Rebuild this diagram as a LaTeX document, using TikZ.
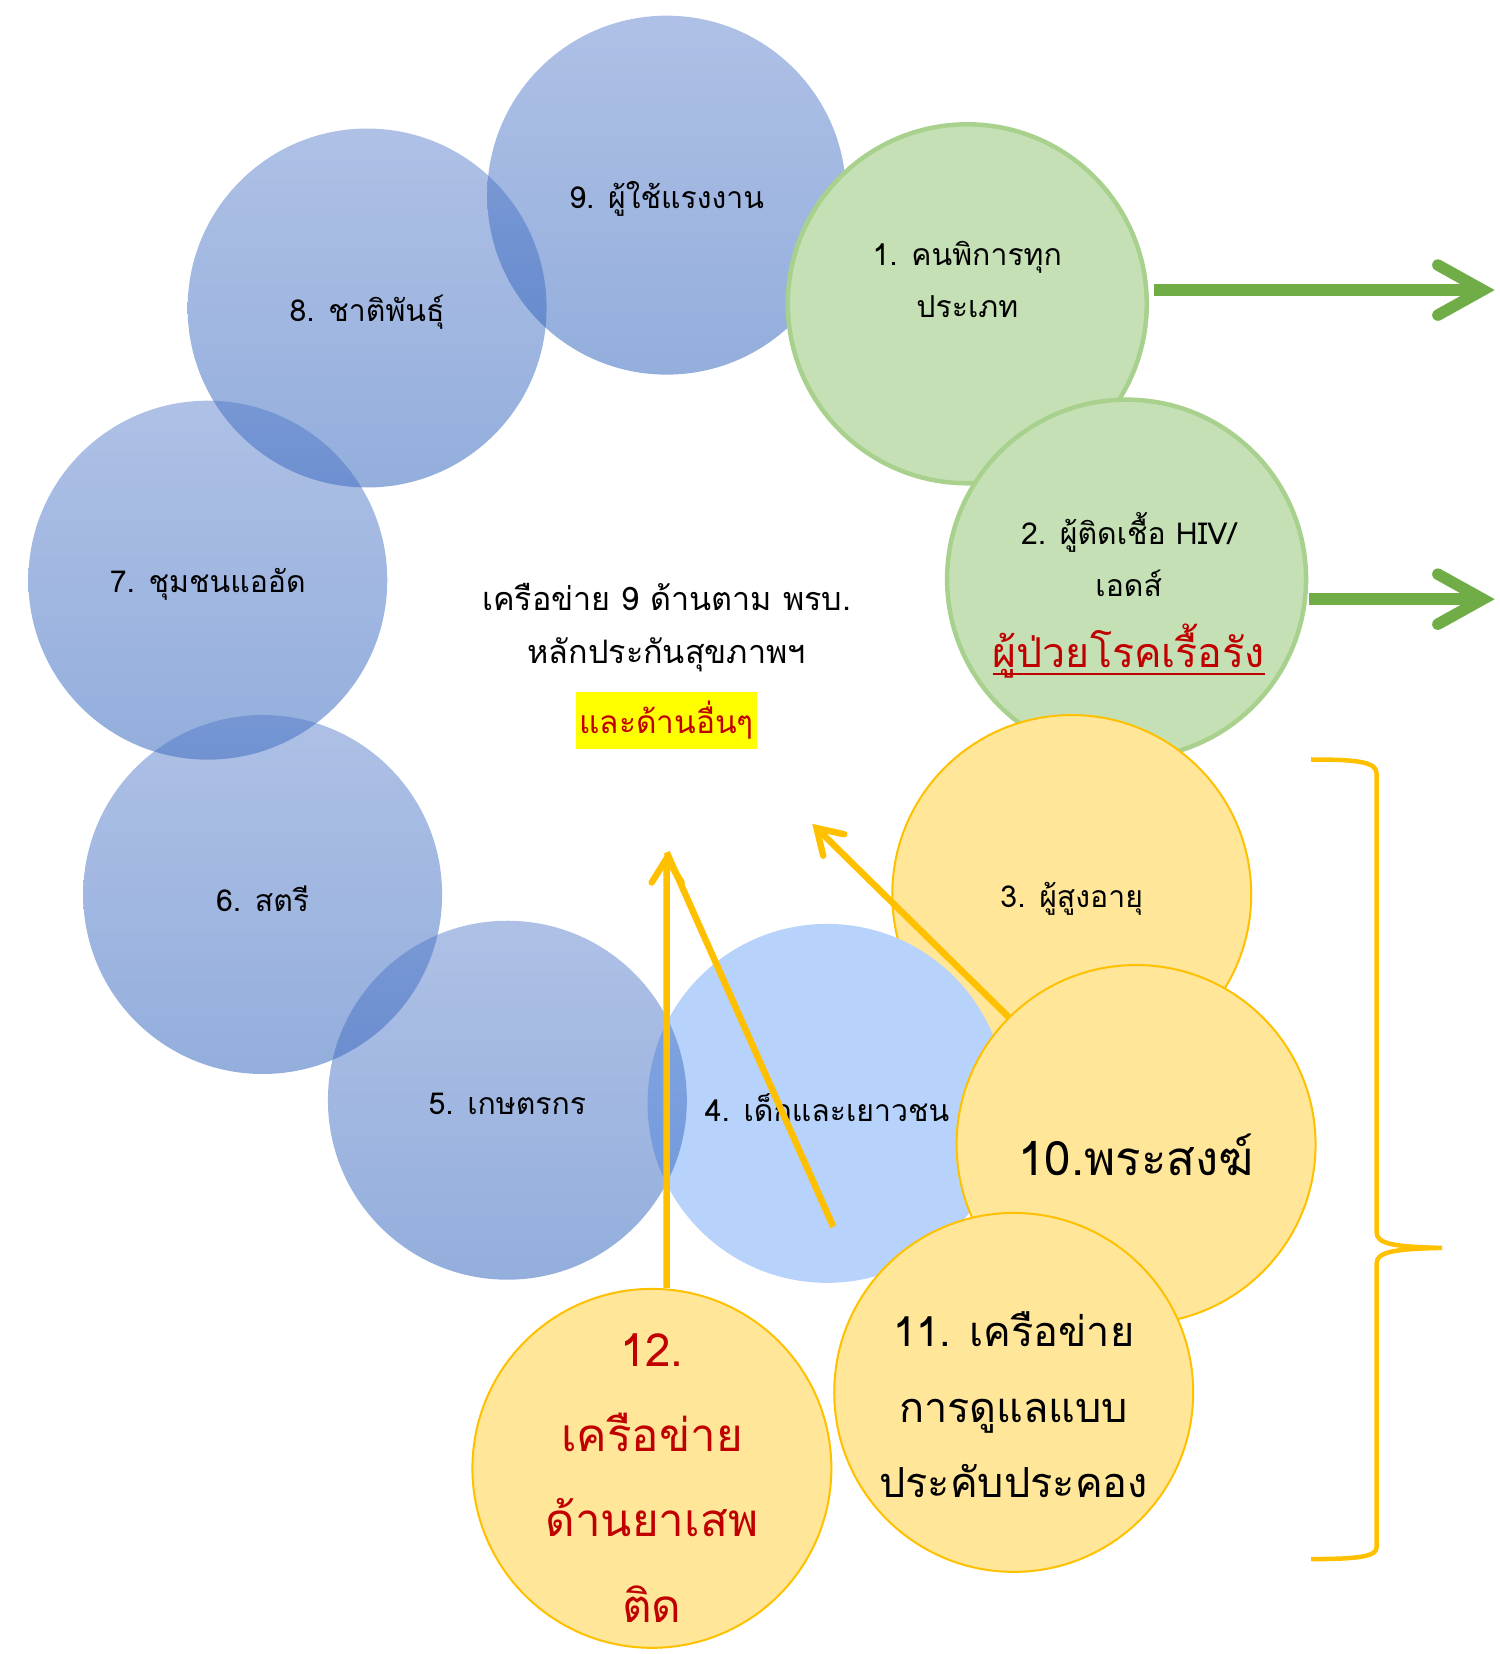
\documentclass[tikz,border=0pt]{standalone}
\usepackage{fontspec}
\usetikzlibrary{positioning, arrows.meta}
\newfontfamily\thaifont[Script=Thai]{Loma}
\definecolor{netblue}{HTML}{4F76C8}
\definecolor{netbluedark}{HTML}{144FB3}
\definecolor{netlight}{HTML}{B7D3FB}
\definecolor{netgreen}{HTML}{C5E0B4}
\definecolor{netgreenline}{HTML}{A9D18E}
\definecolor{netarrow}{HTML}{70AD47}
\definecolor{netyellow}{HTML}{FFE699}
\definecolor{netgold}{HTML}{FFC000}
\definecolor{netred}{HTML}{C00000}
\definecolor{nethigh}{HTML}{FFFF00}
% red text with a thick underline
\newcommand\redunder[1]{\setbox0\hbox{#1}\rlap{\rule[-2.3pt]{\wd0}{0.75pt}}\box0}

\begin{document}
\begin{tikzpicture}[x=0.1055mm, y=-0.1055mm,
        ring/.style={circle, minimum size=35.9mm, inner sep=0pt},
        bluering/.style={ring, top color=netblue, bottom color=netbluedark, fill opacity=0.46, text opacity=1},
        lightring/.style={ring, fill=netlight},
        greenring/.style={ring, fill=netgreen, draw=netgreenline, line width=0.45mm},
        yellowring/.style={ring, fill=netyellow, draw=netgold, line width=0.2mm},
        lbl/.style={align=center, font=\thaifont\fontsize{8.6}{15}\selectfont},
        ringlbl/.style={lbl, yshift=-0.4mm},
        biglbl/.style={align=center, font=\thaifont\fontsize{13}{20}\selectfont},
        greenarrow/.style={draw=netarrow, line width=1.15mm, -{Straight Barb[length=4.5mm, width=5mm, line cap=round]}},
        goldarrow/.style={draw=netgold, line width=0.65mm, -{Straight Barb[length=2.4mm, width=3mm, line cap=round]}},
        goldline/.style={draw=netgold, line width=0.65mm}
    ]
      \useasboundingbox (0,0) rectangle (1422,1568);
      % blue rings
      \node[bluering] (c9) at (632,185) {};
      \node[bluering] (c8) at (348,292) {};
      \node[bluering] (c7) at (197,550) {};
      \node[bluering] (c6) at (249,848) {};
      % green rings
      \node[greenring] (c1) at (917,288) {};
      \node[greenring] (c2) at (1068,549) {};
      % yellow and light rings
      \node[yellowring] (c3) at (1016,848) {};
      \node[lightring] (c4) at (784,1046) {};
      \node[bluering] (c5) at (481,1043) {};
      \node[yellowring] (c10) at (1077,1085) {};
      \node[yellowring] (c11) at (961,1320) {};
      \node[yellowring] (c12) at (618,1392) {};

      % labels
      \node[ringlbl] (t9) at (c9) {9. ผู้ใช้แรงงาน};
      \node[ringlbl] (t8) at (c8) {8. ชาติพันธุ์};
      \node[ringlbl] (t7) at (c7) {7. ชุมชนแออัด};
      \node[ringlbl] (t6) at (c6) {6. สตรี};
      \node[ringlbl] (t5) at (c5) {5. เกษตรกร};
      \node[ringlbl] (t4) at (c4) {4. เด็กและเยาวชน};
      \node[ringlbl] (t3) at (c3) {3. ผู้สูงอายุ};
      \node[lbl] (t1) at (917,265) {1. คนพิการทุก\\ประเภท};
      \node[lbl] (t2) at (1070,564) {2. ผู้ติดเชื้อ HIV/\\เอดส์\\[5pt]{\fontsize{11.7}{15}\selectfont\color{netred}\redunder{ผู้ป่วยโรคเรื้อรัง}}};
      \node[biglbl, font=\thaifont\fontsize{13.5}{20}\selectfont] (t10) at (1077,1095) {10.พระสงฆ์};
      \node[biglbl, font=\thaifont\fontsize{11.8}{21.5}\selectfont] (t11) at (961,1332) {11. เครือข่าย\\การดูแลแบบ\\ประคับประคอง};
      \node[biglbl, text=netred, font=\thaifont\fontsize{13}{24.3}\selectfont] (t12) at (618,1401) {12.\\เครือข่าย\\ด้านยาเสพ\\ติด};

      % centre text
      \node[lbl, font=\thaifont\fontsize{9.2}{15}\selectfont] (title) at (632,595) {เครือข่าย 9 ด้านตาม พรบ.\\หลักประกันสุขภาพฯ};
      \node[lbl, fill=nethigh, text=netred, inner xsep=1pt, inner ysep=0pt, minimum height=5.7mm, font=\thaifont\fontsize{9}{15}\selectfont] (others) at (632,683) {และด้านอื่นๆ};

      % arrows
      \coordinate (out1) at (1417,275);
      \coordinate (out2) at (1417,568);
      \draw[greenarrow] ([shift={(5,-13)}]c1.east) -- (out1);
      \draw[greenarrow] ([shift={(1,19)}]c2.east) -- (out2);
      \coordinate (tipA) at (632,808);
      \coordinate (tipB) at (770,781);
      \coordinate (tail4) at (790,1163);
      \draw[goldarrow] ([xshift=1.48mm]c12.north) -- (tipA);
      \draw[goldline] (tail4) -- (tipA);
      \draw[goldarrow] (c10.135) -- (tipB);

      % brace
      \coordinate (bt) at (1243,720);
      \coordinate (bm) at (1367,1183);
      \coordinate (bb) at (1243,1478);
      \draw[netgold, line width=0.45mm] (bt) .. controls (1285,720) and (1305,722) .. (1305,733) -- (1305,1168)
          .. controls (1305,1179) and (1320,1182) .. (bm)
          .. controls (1320,1184) and (1305,1187) .. (1305,1198) -- (1305,1467)
          .. controls (1305,1476) and (1285,1478) .. (bb);
\end{tikzpicture}
\end{document}
